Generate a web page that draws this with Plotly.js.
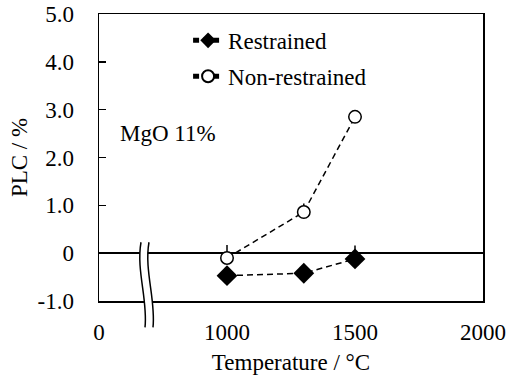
<!DOCTYPE html>
<html>
<head>
<meta charset="utf-8">
<script src="https://cdn.plot.ly/plotly-3.0.1.min.js"></script>
<style>html,body{margin:0;padding:0;background:#fff;}#chart{width:511px;height:378px;}</style>
</head>
<body>
<div id="chart"></div>
<script>
// Data
const temperatures = [1000, 1300, 1500];
const restrained = [-0.47, -0.42, -0.12];
const restrainedErrUp = [0, 0, 0.28];
const nonRestrained = [-0.10, 0.86, 2.85];
const nonRestrainedErrUp = [0.27, 0.18, 0];
const xTickVals = [500, 1000, 1500, 2000];
const xTickText = ["0", "1000", "1500", "2000"];
const yTickVals = [-1, 0, 1, 2, 3, 4, 5];
const yTickText = ["-1.0", "0", "1.0", "2.0", "3.0", "4.0", "5.0"];

const FONT = "Liberation Serif";
const FS = 23;
const F = {family: FONT, size: FS, color: "black"};

const traces = [
  {
    x: temperatures, y: nonRestrained, name: "Non-restrained",
    type: "scatter", mode: "lines+markers", legendrank: 2, legendgroup: "b",
    line: {color: "black", width: 1.5, dash: "6px,4px"},
    marker: {symbol: "circle", size: 12.5, color: "white", line: {color: "black", width: 1.5}},
    error_y: {type: "data", symmetric: false, array: nonRestrainedErrUp, arrayminus: [0,0,0], color: "black", thickness: 1.5, width: 0}
  },
  {
    x: temperatures, y: restrained, name: "Restrained",
    type: "scatter", mode: "lines+markers", legendrank: 1, legendgroup: "a",
    line: {color: "black", width: 1.5, dash: "6px,4px"},
    marker: {symbol: "diamond", size: 16, color: "black", line: {color: "black", width: 0}},
    error_y: {type: "data", symmetric: false, array: restrainedErrUp, arrayminus: [0,0,0], color: "black", thickness: 1.5, width: 0}
  }
];

// axis-break decoration (paper coordinates)
const bx = [0.1094, 0.0964, 0.1276, 0.1198];
const by = [0.2047, 0.107, 0.0024, -0.0917];
const off = 0.0208;
function curve(o) {
  return `M${bx[0]+o},${by[0]} C${bx[1]+o},${by[1]} ${bx[2]+o},${by[2]} ${bx[3]+o},${by[3]}`;
}
const fillPath = curve(0) + ` L${bx[3]+off},${by[3]} C${bx[2]+off},${by[2]} ${bx[1]+off},${by[1]} ${bx[0]+off},${by[0]} Z`;

const layout = {
  width: 511, height: 378,
  margin: {l: 99, r: 28, t: 14, b: 77},
  paper_bgcolor: "white", plot_bgcolor: "white",
  font: F,
  showlegend: true,
  legend: {
    x: 0.232, y: 0.983, xanchor: "left", yanchor: "top",
    bgcolor: "rgba(0,0,0,0)", borderwidth: 0,
    font: F,
    itemsizing: "constant", tracegroupgap: 3
  },
  xaxis: {
    range: [500, 2000], tickmode: "array", tickvals: xTickVals, ticktext: xTickText,
    ticks: "", showgrid: false, zeroline: false,
    showline: true, linecolor: "black", linewidth: 1.5, mirror: true,
    ticklabelstandoff: 10,
    tickfont: F,
    title: {text: "Temperature / °C", font: F, standoff: 10}
  },
  yaxis: {
    range: [-1, 5], tickmode: "array", tickvals: yTickVals, ticktext: yTickText,
    ticks: "inside", ticklen: 7, tickwidth: 1.5, tickcolor: "black",
    showgrid: false, zeroline: true, zerolinecolor: "black", zerolinewidth: 1.5,
    showline: true, linecolor: "black", linewidth: 1.5, mirror: true,
    ticklabelstandoff: 19,
    tickfont: F,
    title: {text: "PLC / %", font: F, standoff: 3}
  },
  annotations: [
    {text: "MgO 11%", xref: "paper", yref: "paper", x: 0.05, y: 0.585, xanchor: "left", yanchor: "middle",
     showarrow: false, font: F}
  ],
  shapes: [
    {type: "path", xref: "paper", yref: "paper", path: fillPath, fillcolor: "white", line: {width: 0}, layer: "above"},
    {type: "path", xref: "paper", yref: "paper", path: curve(0), line: {color: "black", width: 1.5}, layer: "above"},
    {type: "path", xref: "paper", yref: "paper", path: curve(off), line: {color: "black", width: 1.5}, layer: "above"}
  ]
};

Plotly.newPlot("chart", traces, layout, {displayModeBar: false, staticPlot: true});
</script>
</body>
</html>
